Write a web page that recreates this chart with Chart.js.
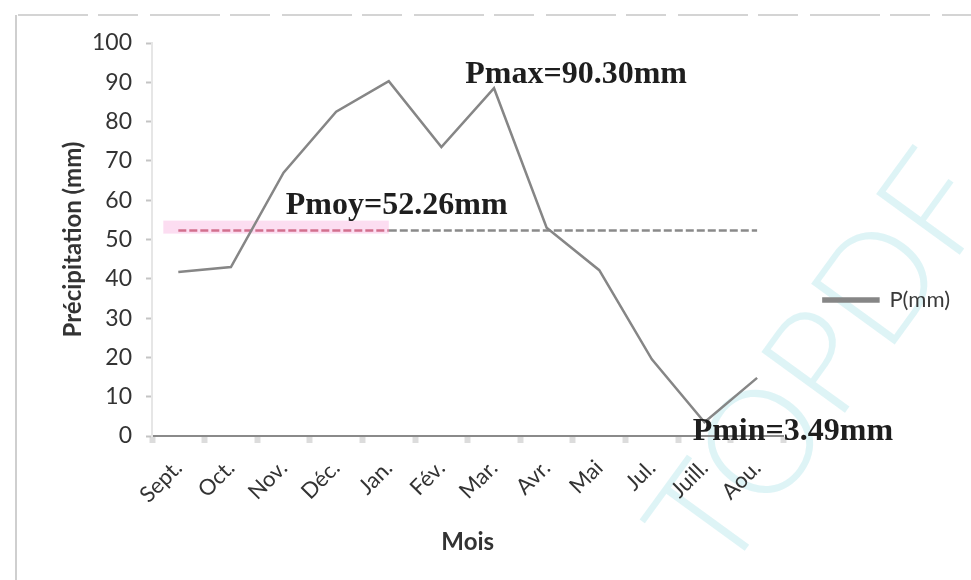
<!DOCTYPE html>
<html lang="fr">
<head>
<meta charset="utf-8">
<title>Précipitations mensuelles</title>
<script src="https://cdn.jsdelivr.net/npm/chart.js@4.4.1/dist/chart.umd.min.js"></script>
<style>
  html, body { margin: 0; padding: 0; background: #ffffff; }
  #wrap { width: 971px; height: 580px; position: relative; }
</style>
</head>
<body>
<div id="wrap"><canvas id="chart" width="971" height="580"></canvas></div>
<script>
// Mois de l'année hydrologique (septembre à août)
const mois = ['Sept.', 'Oct.', 'Nov.', 'Déc.', 'Jan.', 'Fév.', 'Mar.', 'Avr.', 'Mai', 'Jul.', 'Juill.', 'Aou.'];
// Précipitations moyennes mensuelles (mm)
const precipitation = [41.7, 43.0, 67.0, 82.5, 90.3, 73.5, 88.5, 53.0, 42.2, 19.5, 3.49, 14.8];
// Valeurs caractéristiques
const pMoy = 52.26;
const pMax = 90.30;
const pMin = 3.49;
// Graduations de l'axe des précipitations
const yTicks = [0, 10, 20, 30, 40, 50, 60, 70, 80, 90, 100];

const labelFont = 'Lato, "Open Sans", "Liberation Sans", sans-serif';
const serifFont = '"Liberation Serif", "Times New Roman", serif';

// Ligne de la moyenne, une valeur par mois
const moyenne = mois.map(() => pMoy);

// Cadre clair autour du graphique et filigrane
const framePlugin = {
  id: 'frame',
  beforeDraw(chart) {
    const ctx = chart.ctx;
    ctx.save();
    ctx.fillStyle = '#ffffff';
    ctx.fillRect(0, 0, chart.width, chart.height);
    ctx.strokeStyle = '#d4d4d4';
    ctx.lineWidth = 2;
    ctx.setLineDash([70, 10, 40, 12]);
    ctx.beginPath();
    ctx.moveTo(18, 15);
    ctx.lineTo(chart.width, 15);
    ctx.stroke();
    ctx.setLineDash([]);
    ctx.strokeStyle = '#cfcfcf';
    ctx.beginPath();
    ctx.moveTo(16, 15);
    ctx.lineTo(16, chart.height);
    ctx.stroke();
    // filigrane
    ctx.translate(722, 582);
    ctx.rotate(-54 * Math.PI / 180);
    ctx.fillStyle = 'rgba(200, 236, 240, 0.6)';
    ctx.font = '300 146px Lato, "DejaVu Sans", sans-serif';
    ctx.textAlign = 'left';
    ctx.textBaseline = 'alphabetic';
    ctx.fillText('TOPDF', 0, 0);
    ctx.restore();
  }
};

// Surlignage rose derrière la ligne moyenne (septembre à janvier)
const highlightPlugin = {
  id: 'highlight',
  beforeDatasetsDraw(chart) {
    const { ctx, scales: { x, y } } = chart;
    const x0 = x.getPixelForValue(0) - 15;
    const x1 = x.getPixelForValue(4);
    const yc = y.getPixelForValue(pMoy);
    ctx.save();
    ctx.fillStyle = 'rgba(252, 215, 238, 0.85)';
    ctx.fillRect(x0, yc - 10, x1 - x0, 13);
    ctx.restore();
  }
};

// Annotations Pmax, Pmoy, Pmin
const annotationPlugin = {
  id: 'annotations',
  afterDatasetsDraw(chart) {
    const { ctx, scales: { x, y } } = chart;
    const items = [
      { text: 'Pmax=' + pMax.toFixed(2) + 'mm', xi: 7.56, v: 91.9 },
      { text: 'Pmoy=' + pMoy.toFixed(2) + 'mm', xi: 4.15, v: 58.6 },
      { text: 'Pmin=' + pMin.toFixed(2) + 'mm', xi: 11.68, v: 1.0 }
    ];
    ctx.save();
    ctx.font = 'bold 32px ' + serifFont;
    ctx.fillStyle = '#1e1e1e';
    ctx.textAlign = 'center';
    ctx.textBaseline = 'middle';
    items.forEach(it => {
      ctx.fillText(it.text, x.getPixelForValue(it.xi), y.getPixelForValue(it.v));
    });
    ctx.restore();
  }
};

new Chart(document.getElementById('chart'), {
  type: 'line',
  data: {
    labels: mois,
    datasets: [
      {
        label: 'P(mm)',
        data: precipitation,
        borderColor: '#868686',
        backgroundColor: '#868686',
        borderWidth: 2.5,
        pointRadius: 0,
        tension: 0
      },
      {
        label: 'Pmoy',
        data: moyenne,
        borderColor: '#8a8a8a',
        borderWidth: 2.5,
        borderDash: [8, 3],
        pointRadius: 0,
        segment: {
          borderColor: c => (c.p1DataIndex <= 4 ? '#d2708e' : '#8a8a8a')
        }
      }
    ]
  },
  options: {
    responsive: false,
    animation: false,
    layout: { padding: { left: 59, top: 43, right: 11, bottom: 23 } },
    plugins: {
      legend: {
        position: 'right',
        labels: {
          boxWidth: 55,
          boxHeight: 3,
          padding: 40,
          color: '#3a3a3a',
          font: { family: labelFont, size: 22 },
          filter: item => item.datasetIndex === 0
        }
      },
      tooltip: { enabled: false }
    },
    scales: {
      x: {
        offset: true,
        grid: {
          display: true,
          drawOnChartArea: false,
          drawTicks: true,
          offset: true,
          tickLength: 7,
          tickWidth: 6,
          color: '#dcdcdc'
        },
        border: { display: true, color: '#8a8a8a', width: 2 },
        ticks: {
          minRotation: 45,
          maxRotation: 45,
          autoSkip: false,
          padding: 12,
          color: '#333333',
          font: { family: labelFont, size: 22 }
        },
        title: {
          display: true,
          text: 'Mois',
          color: '#333333',
          padding: 0,
          font: { family: labelFont, size: 24, weight: 'bold' }
        },
        afterFit(scale) { scale.height = 121; }
      },
      y: {
        min: 0,
        max: 100,
        afterBuildTicks(scale) { scale.ticks = yTicks.map(v => ({ value: v })); },
        grid: {
          display: true,
          drawOnChartArea: false,
          drawTicks: true,
          tickLength: 6,
          tickWidth: 2,
          color: '#c4c4c4'
        },
        border: { display: true, color: '#e6e6e6', width: 2 },
        ticks: {
          padding: 14,
          color: '#333333',
          font: { family: labelFont, size: 23 }
        },
        title: {
          display: true,
          text: 'Précipitation (mm)',
          color: '#333333',
          padding: 0,
          font: { family: labelFont, size: 24, weight: 'bold' }
        },
        afterFit(scale) { scale.width = 93; }
      }
    }
  },
  plugins: [framePlugin, highlightPlugin, annotationPlugin]
});
</script>
</body>
</html>
